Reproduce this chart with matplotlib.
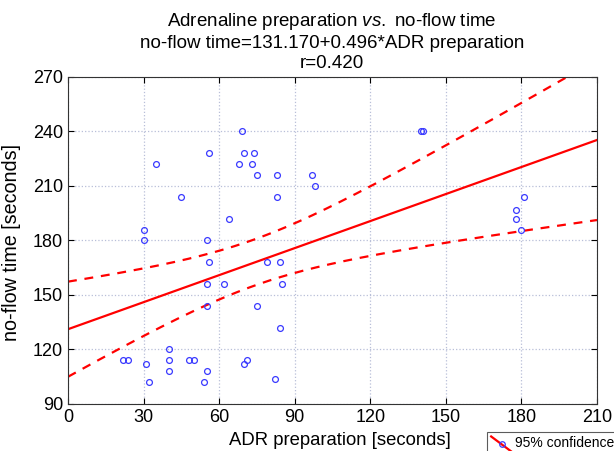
import numpy as np
import matplotlib
matplotlib.use("Agg")
import matplotlib.pyplot as plt
from matplotlib.lines import Line2D
from matplotlib.legend_handler import HandlerLine2D

plt.rcParams["font.family"] = ["Liberation Sans", "DejaVu Sans"]
plt.rcParams["mathtext.fontset"] = "custom"
plt.rcParams["mathtext.rm"] = "Liberation Sans"
plt.rcParams["mathtext.it"] = "Liberation Sans:italic"

# ADR preparation [s] vs no-flow time [s]
adr = [35, 69, 56, 70, 74, 68, 73, 75, 83, 97, 98, 45, 83, 64, 30, 30, 55,
       56, 79, 84, 55, 62, 85, 55, 75, 84, 40, 22, 24, 40, 48, 50, 71, 70,
       31, 40, 55, 32, 54, 82, 140, 141, 181, 178, 178, 180]
noflow = [222, 240, 228, 228, 228, 222, 222, 216, 216, 216, 210, 204, 204, 192,
          186, 180, 180, 168, 168, 168, 156, 156, 156, 144, 144, 132, 120, 114,
          114, 114, 114, 114, 114, 112, 112, 108, 108, 102, 102, 104, 240, 240,
          204, 197, 192, 186]

intercept = 131.170
slope = 0.496

x_ticks = [0, 30, 60, 90, 120, 150, 180, 210]
y_ticks = [90, 120, 150, 180, 210, 240, 270]

x = np.array(adr, dtype=float)
y = np.array(noflow, dtype=float)
n = len(x)

# 95% confidence band of the fitted line
xs = np.linspace(0, 210, 300)
fit = intercept + slope * xs
resid = y - (intercept + slope * x)
s = np.sqrt(np.sum(resid ** 2) / (n - 2))
sxx = np.sum((x - x.mean()) ** 2)
t = 2.015
half = t * s * np.sqrt(1.0 / n + (xs - x.mean()) ** 2 / sxx)


class DiagonalHandler(HandlerLine2D):
    """Legend key drawn as a slanted line with the marker in the middle."""

    def create_artists(self, legend, orig_handle, xdescent, ydescent,
                       width, height, fontsize, trans):
        x0, x1 = -xdescent, width - xdescent
        y0, y1 = height * 1.1, -height * 0.5
        line = Line2D([x0, x1], [y0, y1], color="red", lw=1.6, transform=trans)
        mark = Line2D([(x0 + x1) / 2], [(y0 + y1) / 2], marker="o", ms=4,
                      mfc="none", mec="#3a3aff", mew=0.9, transform=trans)
        return [line, mark]


fig = plt.figure(figsize=(6.14, 4.51), dpi=100)
ax = fig.add_axes([68 / 614, 1 - 404 / 451, 529 / 614, 327 / 451])

ax.plot(x, y, "o", ms=4.2, mfc="none", mec="#3a3aff", mew=0.9, zorder=3)
ax.plot(xs, fit, "-", color="red", lw=1.6)
ax.plot(xs, fit + half, "--", color="red", lw=1.6, dashes=(4, 3.5))
ax.plot(xs, fit - half, "--", color="red", lw=1.6, dashes=(4, 3.5))

ax.set_xlim(0, 210)
ax.set_ylim(90, 270)
ax.set_xticks(x_ticks)
ax.set_yticks(y_ticks)
ax.tick_params(direction="in", top=True, right=True, labelsize=13, length=4)
ax.grid(True, linestyle=":", color="#b8bfd8", lw=0.9)
ax.set_axisbelow(True)
for sp in ax.spines.values():
    sp.set_color("#333333")

ax.set_xlabel("ADR preparation [seconds]", fontsize=13.3)
ax.xaxis.set_label_coords(0.514, -0.085)
ax.set_ylabel("no-flow time [seconds]", fontsize=14.2)
ax.yaxis.set_label_coords(-0.089, 0.495)

fig.text(0.541, 1 - 22 / 451, r"Adrenaline preparation $\it{vs.}$ no-flow time",
         ha="center", va="center", fontsize=13.5)
fig.text(0.541, 1 - 43 / 451, "no-flow time=131.170+0.496*ADR preparation",
         ha="center", va="center", fontsize=13.5)
fig.text(0.541, 1 - 63 / 451, "r=0.420", ha="center", va="center", fontsize=13.5)

handle = Line2D([], [], color="red", lw=1.6)
leg = fig.legend([handle], ["95% confidence"], loc="upper left",
                 bbox_to_anchor=(487 / 614, 1 - 432 / 451), fontsize=10,
                 frameon=True, fancybox=False, borderpad=0.3, handlelength=1.5,
                 handletextpad=0.25, borderaxespad=0,
                 handler_map={handle: DiagonalHandler()})
leg.get_frame().set_edgecolor("#333333")
leg.get_frame().set_linewidth(0.8)

fig.savefig("out.png", dpi=100)
